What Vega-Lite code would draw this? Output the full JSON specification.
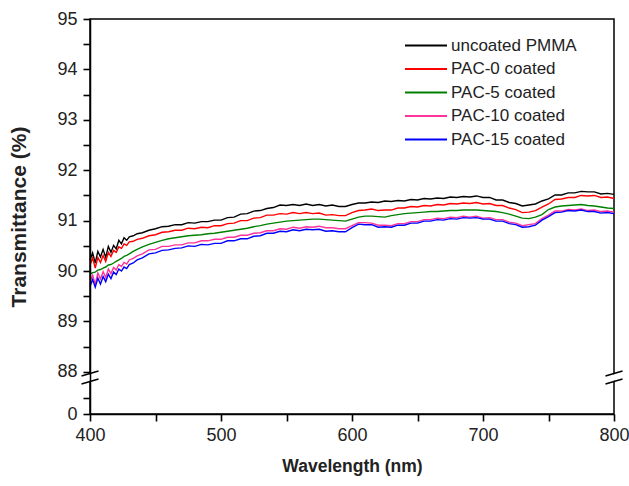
{
"$schema": "https://vega.github.io/schema/vega-lite/v6.json",
"width": 524, "height": 395,
"autosize": "none",
"padding": {"left": 90, "top": 19, "right": 15, "bottom": 72},
"background": "white",
"config": {"font": "Liberation Sans", "view": {"stroke": "black", "strokeWidth": 1.5}},
"resolve": {"axis": {"x": "independent", "y": "independent"}},
"layer": [
{
"data": {"values": [
{"w":400,"a":90.22,"b":90.12,"c":89.94,"d":89.79,"e":89.70},
{"w":402,"a":90.36,"b":90.26,"c":89.97,"d":89.92,"e":89.83},
{"w":404,"a":90.16,"b":90.06,"c":89.98,"d":89.74,"e":89.68},
{"w":406,"a":90.39,"b":90.27,"c":90.02,"d":89.96,"e":89.86},
{"w":408,"a":90.28,"b":90.17,"c":90.03,"d":89.84,"e":89.74},
{"w":410,"a":90.43,"b":90.31,"c":90.06,"d":89.99,"e":89.89},
{"w":412,"a":90.27,"b":90.19,"c":90.08,"d":89.87,"e":89.79},
{"w":414,"a":90.49,"b":90.37,"c":90.12,"d":90.04,"e":89.94},
{"w":416,"a":90.37,"b":90.29,"c":90.13,"d":89.95,"e":89.85},
{"w":418,"a":90.51,"b":90.41,"c":90.16,"d":90.07,"e":89.98},
{"w":420,"a":90.44,"b":90.37,"c":90.19,"d":90.02,"e":89.93},
{"w":422,"a":90.61,"b":90.48,"c":90.22,"d":90.13,"e":90.04},
{"w":424,"a":90.54,"b":90.45,"c":90.25,"d":90.09,"e":90.00},
{"w":426,"a":90.66,"b":90.54,"c":90.29,"d":90.17,"e":90.08},
{"w":428,"a":90.61,"b":90.51,"c":90.31,"d":90.14,"e":90.05},
{"w":430,"a":90.68,"b":90.58,"c":90.34,"d":90.22,"e":90.13},
{"w":433,"a":90.70,"b":90.59,"c":90.39,"d":90.25,"e":90.16},
{"w":436,"a":90.74,"b":90.63,"c":90.43,"d":90.30,"e":90.22},
{"w":440,"a":90.76,"b":90.65,"c":90.48,"d":90.34,"e":90.26},
{"w":445,"a":90.81,"b":90.70,"c":90.53,"d":90.42,"e":90.34},
{"w":450,"a":90.84,"b":90.72,"c":90.57,"d":90.43,"e":90.36},
{"w":455,"a":90.88,"b":90.77,"c":90.61,"d":90.49,"e":90.41},
{"w":460,"a":90.89,"b":90.78,"c":90.64,"d":90.49,"e":90.42},
{"w":465,"a":90.92,"b":90.81,"c":90.66,"d":90.52,"e":90.45},
{"w":470,"a":90.92,"b":90.81,"c":90.68,"d":90.52,"e":90.46},
{"w":475,"a":90.96,"b":90.85,"c":90.70,"d":90.56,"e":90.50},
{"w":480,"a":90.95,"b":90.84,"c":90.71,"d":90.56,"e":90.49},
{"w":485,"a":90.98,"b":90.87,"c":90.72,"d":90.60,"e":90.53},
{"w":490,"a":90.98,"b":90.86,"c":90.74,"d":90.60,"e":90.52},
{"w":495,"a":91.01,"b":90.90,"c":90.75,"d":90.63,"e":90.55},
{"w":500,"a":91.01,"b":90.90,"c":90.77,"d":90.63,"e":90.55},
{"w":505,"a":91.06,"b":90.94,"c":90.79,"d":90.67,"e":90.60},
{"w":510,"a":91.07,"b":90.95,"c":90.81,"d":90.67,"e":90.60},
{"w":515,"a":91.13,"b":91.00,"c":90.83,"d":90.71,"e":90.64},
{"w":520,"a":91.14,"b":91.00,"c":90.85,"d":90.71,"e":90.64},
{"w":525,"a":91.19,"b":91.05,"c":90.88,"d":90.75,"e":90.69},
{"w":530,"a":91.20,"b":91.06,"c":90.90,"d":90.76,"e":90.70},
{"w":535,"a":91.24,"b":91.11,"c":90.93,"d":90.80,"e":90.75},
{"w":540,"a":91.26,"b":91.11,"c":90.95,"d":90.80,"e":90.75},
{"w":545,"a":91.31,"b":91.14,"c":90.97,"d":90.84,"e":90.79},
{"w":550,"a":91.30,"b":91.13,"c":90.99,"d":90.83,"e":90.78},
{"w":555,"a":91.32,"b":91.16,"c":91.00,"d":90.87,"e":90.82},
{"w":560,"a":91.30,"b":91.14,"c":91.01,"d":90.85,"e":90.80},
{"w":565,"a":91.33,"b":91.16,"c":91.02,"d":90.88,"e":90.83},
{"w":570,"a":91.30,"b":91.14,"c":91.03,"d":90.87,"e":90.82},
{"w":575,"a":91.32,"b":91.15,"c":91.03,"d":90.89,"e":90.83},
{"w":580,"a":91.29,"b":91.11,"c":91.02,"d":90.86,"e":90.79},
{"w":585,"a":91.31,"b":91.12,"c":91.01,"d":90.86,"e":90.80},
{"w":590,"a":91.28,"b":91.10,"c":91.00,"d":90.84,"e":90.78},
{"w":595,"a":91.28,"b":91.10,"c":90.99,"d":90.84,"e":90.78},
{"w":600,"a":91.32,"b":91.16,"c":91.03,"d":90.90,"e":90.86},
{"w":605,"a":91.35,"b":91.20,"c":91.07,"d":90.96,"e":90.93},
{"w":610,"a":91.35,"b":91.21,"c":91.09,"d":90.96,"e":90.92},
{"w":615,"a":91.37,"b":91.23,"c":91.09,"d":90.95,"e":90.92},
{"w":620,"a":91.36,"b":91.20,"c":91.08,"d":90.91,"e":90.87},
{"w":625,"a":91.39,"b":91.21,"c":91.07,"d":90.91,"e":90.88},
{"w":630,"a":91.38,"b":91.21,"c":91.10,"d":90.90,"e":90.87},
{"w":635,"a":91.40,"b":91.25,"c":91.12,"d":90.94,"e":90.91},
{"w":640,"a":91.39,"b":91.25,"c":91.14,"d":90.94,"e":90.91},
{"w":645,"a":91.42,"b":91.28,"c":91.15,"d":90.98,"e":90.95},
{"w":650,"a":91.41,"b":91.27,"c":91.16,"d":90.98,"e":90.95},
{"w":655,"a":91.44,"b":91.30,"c":91.17,"d":91.02,"e":90.99},
{"w":660,"a":91.43,"b":91.29,"c":91.18,"d":91.02,"e":90.99},
{"w":665,"a":91.45,"b":91.32,"c":91.18,"d":91.05,"e":91.02},
{"w":670,"a":91.44,"b":91.31,"c":91.19,"d":91.04,"e":91.01},
{"w":675,"a":91.47,"b":91.34,"c":91.20,"d":91.07,"e":91.04},
{"w":680,"a":91.46,"b":91.33,"c":91.20,"d":91.06,"e":91.03},
{"w":685,"a":91.48,"b":91.35,"c":91.21,"d":91.09,"e":91.06},
{"w":690,"a":91.47,"b":91.34,"c":91.21,"d":91.07,"e":91.05},
{"w":695,"a":91.49,"b":91.36,"c":91.21,"d":91.09,"e":91.06},
{"w":700,"a":91.46,"b":91.33,"c":91.20,"d":91.05,"e":91.03},
{"w":705,"a":91.46,"b":91.34,"c":91.19,"d":91.06,"e":91.03},
{"w":710,"a":91.41,"b":91.30,"c":91.18,"d":91.02,"e":90.99},
{"w":715,"a":91.41,"b":91.30,"c":91.16,"d":91.02,"e":90.99},
{"w":720,"a":91.36,"b":91.25,"c":91.13,"d":90.97,"e":90.94},
{"w":725,"a":91.34,"b":91.22,"c":91.09,"d":90.95,"e":90.92},
{"w":730,"a":91.29,"b":91.16,"c":91.05,"d":90.90,"e":90.87},
{"w":735,"a":91.31,"b":91.17,"c":91.04,"d":90.92,"e":90.88},
{"w":740,"a":91.33,"b":91.20,"c":91.07,"d":90.94,"e":90.91},
{"w":745,"a":91.39,"b":91.27,"c":91.12,"d":91.04,"e":91.01},
{"w":750,"a":91.43,"b":91.33,"c":91.22,"d":91.11,"e":91.08},
{"w":755,"a":91.51,"b":91.42,"c":91.27,"d":91.19,"e":91.16},
{"w":760,"a":91.51,"b":91.43,"c":91.29,"d":91.19,"e":91.17},
{"w":765,"a":91.55,"b":91.46,"c":91.30,"d":91.22,"e":91.20},
{"w":770,"a":91.55,"b":91.46,"c":91.31,"d":91.21,"e":91.19},
{"w":775,"a":91.58,"b":91.50,"c":91.32,"d":91.23,"e":91.21},
{"w":780,"a":91.57,"b":91.49,"c":91.30,"d":91.20,"e":91.18},
{"w":785,"a":91.57,"b":91.50,"c":91.29,"d":91.21,"e":91.18},
{"w":790,"a":91.53,"b":91.46,"c":91.27,"d":91.18,"e":91.15},
{"w":795,"a":91.54,"b":91.47,"c":91.25,"d":91.19,"e":91.16},
{"w":800,"a":91.52,"b":91.44,"c":91.24,"d":91.17,"e":91.14}
]},
"transform": [
{"fold": ["a","b","c","d","e"], "as": ["k","T"]},
{"lookup": "k", "from": {"data": {"values": [
{"k":"a","series":"uncoated PMMA"},
{"k":"b","series":"PAC-0 coated"},
{"k":"c","series":"PAC-5 coated"},
{"k":"d","series":"PAC-10 coated"},
{"k":"e","series":"PAC-15 coated"}]}, "key": "k", "fields": ["series"]}}
],
"mark": {"type": "line", "strokeWidth": 1.4},
"encoding": {
"x": {"field": "w", "type": "quantitative", "title": "Wavelength (nm)",
 "scale": {"domain": [400, 800], "nice": false},
 "axis": {"title": "Wavelength (nm)", "values": [400,450,500,550,600,650,700,750,800],
  "labelExpr": "datum.value % 100 == 0 ? datum.label : ''", "labelFlush": false, "zindex": 1,
  "ticks": true, "tickSize": 7, "tickColor": "#000000", "tickWidth": 1.6, "tickOpacity": 1,
  "encode": {"ticks": {"update": {"y2": {"signal": "datum.value % 100 == 0 ? 7 : 4"}}}},
  "grid": false, "domainColor": "black", "domainWidth": 1.5,
  "labelFontSize": 18, "labelColor": "#222", "labelPadding": 5,
  "titleFontSize": 17.5, "titleFontWeight": "bold", "titleColor": "#222", "titlePadding": 13}},
"y": {"field": "T", "type": "quantitative", "title": "Transmittance (%)",
 "scale": {"domain": [0, 87.7, 95], "range": [395, 368, 0], "nice": false, "zero": false},
 "axis": {"title": "Transmittance (%)", "values": [0,52,88,88.5,89,89.5,90,90.5,91,91.5,92,92.5,93,93.5,94,94.5,95],
  "labelExpr": "datum.value % 1 == 0 && datum.value != 52 ? '' + datum.value : ''", "labelFlush": false, "zindex": 1,
  "ticks": true, "tickSize": 7, "tickColor": "#000000", "tickWidth": 1.6, "tickOpacity": 1,
  "encode": {"ticks": {"update": {"x2": {"signal": "datum.value % 1 == 0 && datum.value != 52 ? -7 : -4"}}}},
  "grid": false, "domainColor": "black", "domainWidth": 1.5,
  "labelFontSize": 18, "labelColor": "#222", "labelPadding": 6,
  "titleFontSize": 21, "titleFontWeight": "bold", "titleColor": "#222", "titlePadding": 27}},
"color": {"field": "series", "type": "nominal",
 "scale": {"domain": ["uncoated PMMA","PAC-0 coated","PAC-5 coated","PAC-10 coated","PAC-15 coated"],
  "range": ["#000000","#ff0000","#008000","#ff3399","#0000ff"]},
 "legend": {"orient": "none", "legendX": 324.5, "legendY": 15, "title": null,
  "symbolType": "M-2,0H2", "symbolSize": 441, "symbolStrokeWidth": 2, "symbolFillColor": "transparent",
  "labelFontSize": 17, "labelOffset": 13.5, "rowPadding": 3.5, "padding": 0, "labelColor": "#222"}}
}
},
{
"data": {"values": [{}]},
"mark": {"type": "rule", "color": "white", "strokeWidth": 6, "zindex": 2},
"encoding": {"x": {"datum": 397.7, "type": "quantitative", "axis": null}, "x2": {"datum": 402.3}, "y": {"datum": 87.867, "type": "quantitative", "axis": null}, "y2": {"datum": 87.91}}
},
{
"data": {"values": [{}]},
"mark": {"type": "rule", "color": "white", "strokeWidth": 6, "zindex": 2},
"encoding": {"x": {"datum": 797.7, "type": "quantitative", "axis": null}, "x2": {"datum": 802.3}, "y": {"datum": 87.867, "type": "quantitative", "axis": null}, "y2": {"datum": 87.91}}
},
{
"data": {"values": [{}]},
"mark": {"type": "rule", "color": "black", "strokeWidth": 1.5, "zindex": 3},
"encoding": {"x": {"datum": 393.5, "type": "quantitative", "axis": null}, "x2": {"datum": 406.5}, "y": {"datum": 87.918, "type": "quantitative", "axis": null}, "y2": {"datum": 88.017}}
},
{
"data": {"values": [{}]},
"mark": {"type": "rule", "color": "black", "strokeWidth": 1.5, "zindex": 3},
"encoding": {"x": {"datum": 393.5, "type": "quantitative", "axis": null}, "x2": {"datum": 406.5}, "y": {"datum": 87.759, "type": "quantitative", "axis": null}, "y2": {"datum": 87.859}}
},
{
"data": {"values": [{}]},
"mark": {"type": "rule", "color": "black", "strokeWidth": 1.5, "zindex": 3},
"encoding": {"x": {"datum": 793.5, "type": "quantitative", "axis": null}, "x2": {"datum": 806.5}, "y": {"datum": 87.918, "type": "quantitative", "axis": null}, "y2": {"datum": 88.017}}
},
{
"data": {"values": [{}]},
"mark": {"type": "rule", "color": "black", "strokeWidth": 1.5, "zindex": 3},
"encoding": {"x": {"datum": 793.5, "type": "quantitative", "axis": null}, "x2": {"datum": 806.5}, "y": {"datum": 87.759, "type": "quantitative", "axis": null}, "y2": {"datum": 87.859}}
}
]
}
